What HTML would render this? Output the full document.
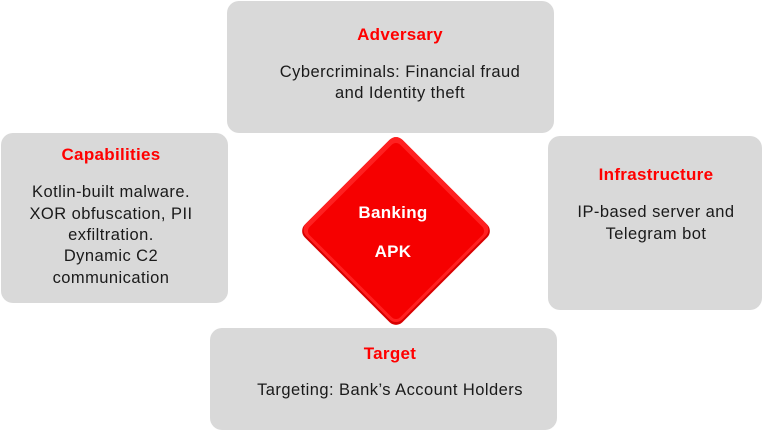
<!DOCTYPE html>
<html><head><style>
html,body{margin:0;padding:0;background:#fff;}
svg{display:block;}
text{font-family:"Liberation Sans",sans-serif;font-size:16.5px;letter-spacing:0.45px;fill:#1a1a1a;}
.t{fill:#ff0000;font-weight:bold;font-size:17px;letter-spacing:0.3px;}
.w{fill:#fff;font-weight:bold;font-size:17px;letter-spacing:0.3px;}
</style></head><body>
<svg width="763" height="431" viewBox="0 0 763 431">
<rect x="227" y="1" width="327" height="132" rx="12" fill="#d9d9d9"/>
<rect x="1" y="133" width="227" height="170" rx="12" fill="#d9d9d9"/>
<rect x="548" y="136" width="214" height="174" rx="12" fill="#d9d9d9"/>
<rect x="210" y="328" width="347" height="102" rx="12" fill="#d9d9d9"/>
<g transform="translate(396,231) rotate(45)">
<rect x="-69" y="-69" width="138" height="138" rx="9" fill="#d80000"/>
<rect x="-69" y="-69" width="136" height="136" rx="9" fill="#ff2020"/>
<rect x="-64" y="-64" width="128" height="128" rx="6" fill="#f60000"/>
</g>
<text class="w" x="393" y="218" text-anchor="middle">Banking</text>
<text class="w" x="393" y="257" text-anchor="middle">APK</text>
<text class="t" x="400" y="40" text-anchor="middle">Adversary</text>
<text x="400" y="77" text-anchor="middle">Cybercriminals: Financial fraud</text>
<text x="400" y="98" text-anchor="middle">and Identity theft</text>
<text class="t" x="111" y="160" text-anchor="middle">Capabilities</text>
<text x="111" y="197" text-anchor="middle">Kotlin-built malware.</text>
<text x="111" y="219" text-anchor="middle">XOR obfuscation, PII</text>
<text x="111" y="240" text-anchor="middle">exfiltration.</text>
<text x="111" y="261" text-anchor="middle">Dynamic C2</text>
<text x="111" y="283" text-anchor="middle">communication</text>
<text class="t" x="656" y="180" text-anchor="middle">Infrastructure</text>
<text x="656" y="217" text-anchor="middle">IP-based server and</text>
<text x="656" y="239" text-anchor="middle">Telegram bot</text>
<text class="t" x="390" y="359" text-anchor="middle">Target</text>
<text x="390" y="395" text-anchor="middle">Targeting: Bank’s Account Holders</text>
</svg>
</body></html>
